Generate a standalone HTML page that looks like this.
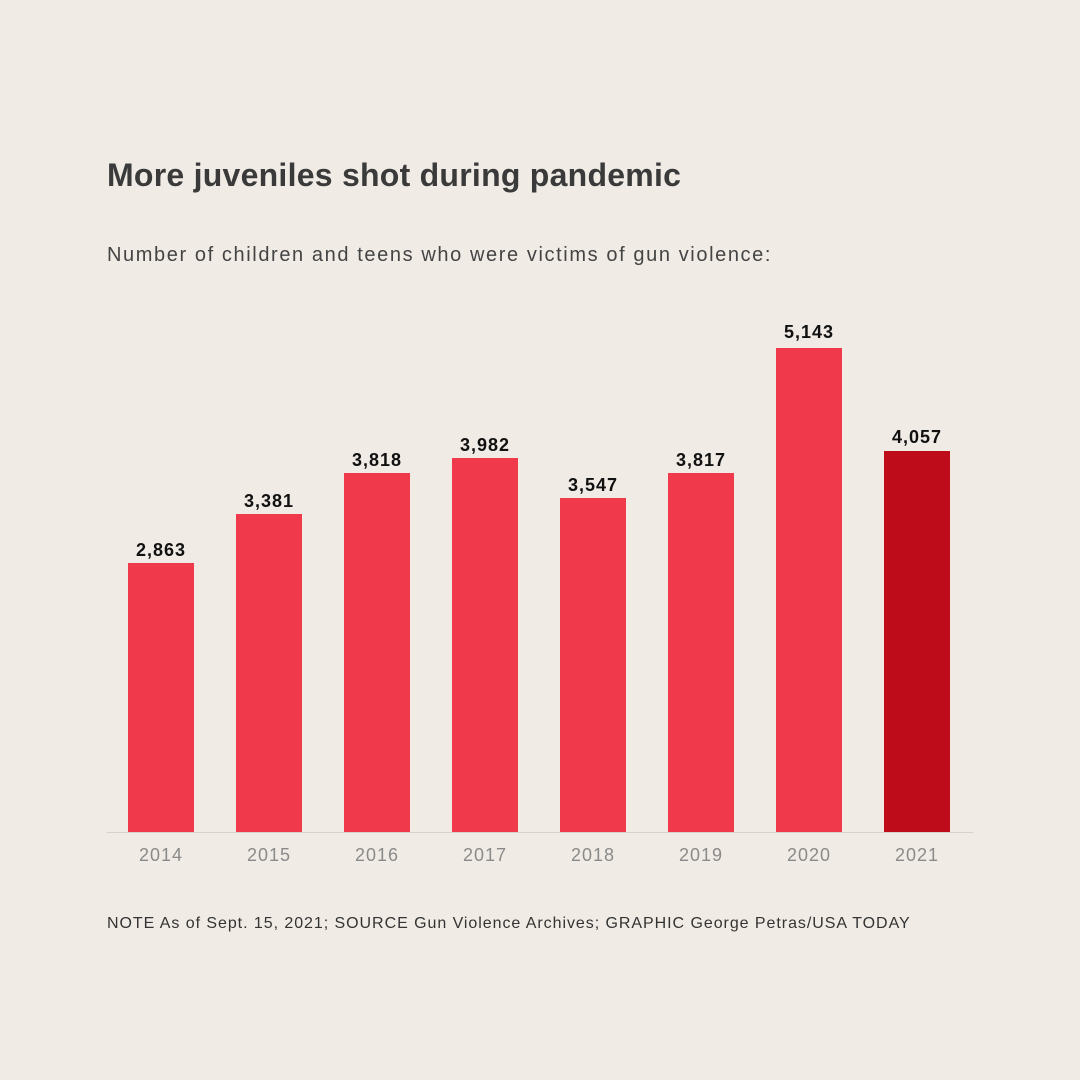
<!DOCTYPE html>
<html><head><style>
body{margin:0;width:1080px;height:1080px;background:#f0ebe5;font-family:"Liberation Sans",sans-serif;position:relative;overflow:hidden}
.t{position:absolute;left:107px;top:157px;font-size:32px;font-weight:bold;color:#3a3a3a;letter-spacing:0.25px;white-space:nowrap}
.s{position:absolute;left:107px;top:244px;font-size:20px;color:#444;letter-spacing:1.6px;white-space:nowrap}
.n{position:absolute;left:107px;top:915px;font-size:16px;color:#333;letter-spacing:0.95px;white-space:nowrap}
.b{position:absolute;width:66px;background:#f03a4b}
.v{position:absolute;width:120px;text-align:center;font-size:18px;font-weight:bold;color:#111;letter-spacing:1px}
.y{position:absolute;top:845px;width:120px;text-align:center;font-size:18px;color:#8a8a8a;letter-spacing:1px}
.ax{position:absolute;left:107px;top:832px;width:866px;height:1px;background:#d8d2cc}
</style></head><body>
<div class="t">More juveniles shot during pandemic</div>
<div class="s">Number of children and teens who were victims of gun violence:</div>
<div class="ax"></div>
<div class="b" style="left:128px;top:563px;height:269px"></div><div class="v" style="left:101px;top:540px">2,863</div><div class="y" style="left:101px">2014</div>
<div class="b" style="left:236px;top:514px;height:318px"></div><div class="v" style="left:209px;top:491px">3,381</div><div class="y" style="left:209px">2015</div>
<div class="b" style="left:344px;top:473px;height:359px"></div><div class="v" style="left:317px;top:450px">3,818</div><div class="y" style="left:317px">2016</div>
<div class="b" style="left:452px;top:458px;height:374px"></div><div class="v" style="left:425px;top:435px">3,982</div><div class="y" style="left:425px">2017</div>
<div class="b" style="left:560px;top:498px;height:334px"></div><div class="v" style="left:533px;top:475px">3,547</div><div class="y" style="left:533px">2018</div>
<div class="b" style="left:668px;top:473px;height:359px"></div><div class="v" style="left:641px;top:450px">3,817</div><div class="y" style="left:641px">2019</div>
<div class="b" style="left:776px;top:348px;height:484px"></div><div class="v" style="left:749px;top:322px">5,143</div><div class="y" style="left:749px">2020</div>
<div class="b" style="left:884px;top:451px;height:381px;background:#be0c1a"></div><div class="v" style="left:857px;top:427px">4,057</div><div class="y" style="left:857px">2021</div>
<div class="n">NOTE As of Sept. 15, 2021; SOURCE Gun Violence Archives; GRAPHIC George Petras/USA TODAY</div>
</body></html>
